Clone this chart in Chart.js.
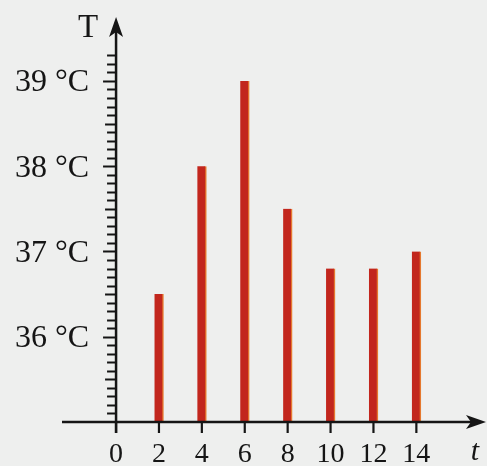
<!DOCTYPE html>
<html>
<head>
<meta charset="utf-8">
<script src="https://cdn.jsdelivr.net/npm/chart.js@4/dist/chart.umd.min.js"></script>
<style>
  html, body { margin: 0; padding: 0; background: #eeefee; }
  canvas { display: block; }
</style>
</head>
<body>
<canvas id="homerseklet" width="487" height="466"></canvas>
<script>
// adatok (leolvasva az abrarol)
const idopontok = [2, 4, 6, 8, 10, 12, 14]
const homersekletek = [36.5, 38.0, 39.0, 37.5, 36.8, 36.8, 37.0]
const xTickek = [0, 2, 4, 6, 8, 10, 12, 14]
const yTickek = [36, 37, 38, 39]
const yFeliratok = ['36 °C', '37 °C', '38 °C', '39 °C']

// tengelyek, nyilak, osztasok
const tengelyek = {
  id: 'tengelyek',
  beforeDraw(chart) {
    const ctx = chart.ctx
    ctx.save()
    ctx.fillStyle = '#eeefee'
    ctx.fillRect(0, 0, chart.width, chart.height)
    ctx.restore()
  },
  afterDraw(chart) {
    const ctx = chart.ctx
    const area = chart.chartArea
    const x = chart.scales.x
    const y = chart.scales.y
    const x0 = x.getPixelForValue(0)
    const y0 = y.getPixelForValue(35)
    ctx.save()
    ctx.strokeStyle = '#151515'
    ctx.fillStyle = '#151515'
    ctx.lineWidth = 2.5

    // x tengely
    ctx.beginPath()
    ctx.moveTo(area.left, y0)
    ctx.lineTo(area.right - 10, y0)
    ctx.stroke()
    ctx.beginPath()
    ctx.moveTo(area.right + 1, y0)
    ctx.lineTo(area.right - 19, y0 - 7)
    ctx.lineTo(area.right - 14, y0)
    ctx.lineTo(area.right - 19, y0 + 7)
    ctx.closePath()
    ctx.fill()

    // y tengely
    ctx.beginPath()
    ctx.moveTo(x0, y0 + 11)
    ctx.lineTo(x0, area.top + 12)
    ctx.stroke()
    ctx.beginPath()
    ctx.moveTo(x0, area.top)
    ctx.lineTo(x0 - 7, area.top + 20)
    ctx.lineTo(x0, area.top + 15)
    ctx.lineTo(x0 + 7, area.top + 20)
    ctx.closePath()
    ctx.fill()

    // y osztasok 0.1-enkent
    ctx.lineWidth = 2
    for (let i = 351; i <= 393; i++) {
      const py = Math.round(y.getPixelForValue(i / 10)) + 0.5
      let hossz = 9
      if (i % 10 === 0) hossz = 13
      else if (i % 5 === 0) hossz = 11
      ctx.beginPath()
      ctx.moveTo(x0 - hossz, py)
      ctx.lineTo(x0, py)
      ctx.stroke()
    }

    // x osztasok
    ctx.lineWidth = 2.2
    xTickek.forEach(v => {
      const px = x.getPixelForValue(v)
      ctx.beginPath()
      ctx.moveTo(px, y0)
      ctx.lineTo(px, y0 + 11)
      ctx.stroke()
    })

    // feliratok
    ctx.font = '32px "Liberation Serif"'
    ctx.textAlign = 'right'
    ctx.textBaseline = 'middle'
    yTickek.forEach((v, i) => {
      ctx.fillText(yFeliratok[i], x0 - 27, y.getPixelForValue(v) + 2)
    })

    ctx.font = '28px "Liberation Serif"'
    ctx.textAlign = 'center'
    ctx.textBaseline = 'alphabetic'
    xTickek.forEach(v => {
      ctx.fillText(String(v), x.getPixelForValue(v), y0 + 40)
    })

    ctx.font = '33px "Liberation Serif"'
    ctx.fillText('T', x0 - 28, area.top + 20)
    ctx.font = 'italic 30px "Liberation Serif"'
    ctx.fillText('t', area.right - 10, y0 + 38)
    ctx.restore()
  }
}

var ctx1 = document.getElementById('homerseklet').getContext('2d')
var oszlopok = new Chart(ctx1, {
  type: 'bar',
  data: {
    datasets: [{
      data: idopontok.map((t, i) => ({ x: t, y: homersekletek[i] })),
      backgroundColor: '#c2261d',
      borderColor: '#e5782e',
      borderWidth: { right: 1.5, left: 0, top: 0, bottom: 0 },
      borderSkipped: 'start',
      barThickness: 9,
    }],
  },
  options: {
    responsive: false,
    animation: false,
    devicePixelRatio: 1,
    layout: {
      padding: { left: 62, right: 2, top: 17, bottom: 44 }
    },
    scales: {
      x: { type: 'linear', min: -2.52, max: 17.2, offset: false, display: false },
      y: { type: 'linear', min: 35, max: 39.75, display: false },
    },
    plugins: {
      legend: { display: false },
      title: { display: false },
      tooltip: { enabled: false },
    },
  },
  plugins: [tengelyek]
})
</script>
</body>
</html>
